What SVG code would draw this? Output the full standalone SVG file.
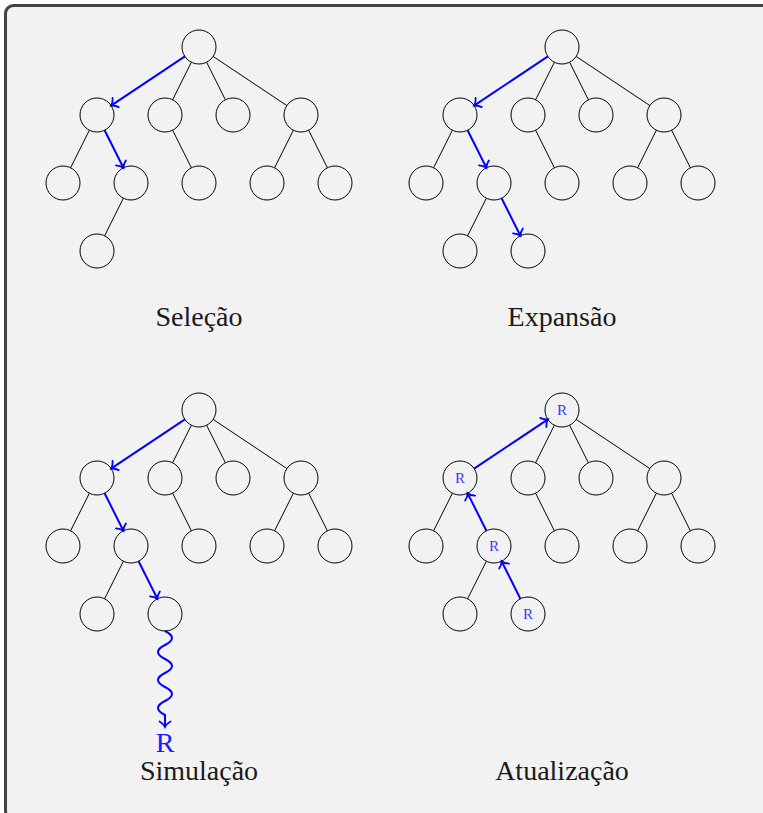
<svg xmlns="http://www.w3.org/2000/svg" width="763" height="813" viewBox="0 0 763 813">
<style>
.n{fill:none;stroke:#000;stroke-width:1}
.e{stroke:#000;stroke-width:1;fill:none}
.b{stroke:#0000ff;stroke-width:2;fill:none;marker-end:url(#ah)}
.lbl{font-family:"Liberation Serif","DejaVu Serif",serif;font-size:28px;fill:#1a1a1a;text-anchor:middle}
.r{font-family:"Liberation Serif","DejaVu Serif",serif;font-size:15px;fill:#3a3aff;text-anchor:middle}
.bigr{font-family:"Liberation Serif","DejaVu Serif",serif;font-size:28px;fill:#1a1aff;text-anchor:middle}
</style>
<defs>
<marker id="ah" markerUnits="userSpaceOnUse" viewBox="-8 -8 10 16" refX="0" refY="0" markerWidth="10" markerHeight="16" orient="auto" overflow="visible">
<path d="M-5.5,-5.5 C-4,-2.8 -1.7,-0.8 0,0 C-1.7,0.8 -4,2.8 -5.5,5.5" fill="none" stroke="#0000ff" stroke-width="1.8" stroke-linecap="round"/>
</marker>
</defs>
<rect x="5.5" y="5.5" width="775" height="813" rx="8" fill="#f2f2f2" stroke="#444" stroke-width="3"/>
<g id="connectors">
<g id="c-sel">
<path class="e" d="M191.4,62.2L172.6,99.8M206.6,62.2L225.4,99.8M213.1,56.4L286.9,105.6M89.4,130.2L70.6,167.8M172.6,130.2L191.4,167.8M293.4,130.2L274.6,167.8M308.6,130.2L327.4,167.8M123.4,198.2L104.6,235.8"/>
<path class="b" d="M184.9,56.4L111.1,105.6"/>
<path class="b" d="M104.6,130.2L123.4,167.8"/>
</g>
<g id="c-exp" transform="translate(363,0)">
<path class="e" d="M191.4,62.2L172.6,99.8M206.6,62.2L225.4,99.8M213.1,56.4L286.9,105.6M89.4,130.2L70.6,167.8M172.6,130.2L191.4,167.8M293.4,130.2L274.6,167.8M308.6,130.2L327.4,167.8M123.4,198.2L104.6,235.8"/>
<path class="b" d="M184.9,56.4L111.1,105.6"/>
<path class="b" d="M104.6,130.2L123.4,167.8"/>
<path class="b" d="M138.6,198.2L157.4,235.8"/>
</g>
<g id="c-sim" transform="translate(0,363)">
<path class="e" d="M191.4,62.2L172.6,99.8M206.6,62.2L225.4,99.8M213.1,56.4L286.9,105.6M89.4,130.2L70.6,167.8M172.6,130.2L191.4,167.8M293.4,130.2L274.6,167.8M308.6,130.2L327.4,167.8M123.4,198.2L104.6,235.8"/>
<path class="b" d="M184.9,56.4L111.1,105.6"/>
<path class="b" d="M104.6,130.2L123.4,167.8"/>
<path class="b" d="M138.6,198.2L157.4,235.8"/>
<path class="b" d="M165,268 Q179,275 165,282 T165,296 T165,310 T165,324 T165,338 T165,352 L165,364"/>
</g>
<g id="c-atu" transform="translate(363,363)">
<path class="e" d="M191.4,62.2L172.6,99.8M206.6,62.2L225.4,99.8M213.1,56.4L286.9,105.6M89.4,130.2L70.6,167.8M172.6,130.2L191.4,167.8M293.4,130.2L274.6,167.8M308.6,130.2L327.4,167.8M123.4,198.2L104.6,235.8"/>
<path class="b" d="M111.1,105.6L184.9,56.4"/>
<path class="b" d="M123.4,167.8L104.6,130.2"/>
<path class="b" d="M157.4,235.8L138.6,198.2"/>
</g>
</g>
<g id="panel-selecao">
<g id="s0"><circle class="n" cx="199" cy="47" r="17"/></g>
<g id="s1"><circle class="n" cx="97" cy="115" r="17"/></g>
<g id="s2"><circle class="n" cx="165" cy="115" r="17"/></g>
<g id="s3"><circle class="n" cx="233" cy="115" r="17"/></g>
<g id="s4"><circle class="n" cx="301" cy="115" r="17"/></g>
<g id="s5"><circle class="n" cx="63" cy="183" r="17"/></g>
<g id="s6"><circle class="n" cx="131" cy="183" r="17"/></g>
<g id="s7"><circle class="n" cx="199" cy="183" r="17"/></g>
<g id="s8"><circle class="n" cx="267" cy="183" r="17"/></g>
<g id="s9"><circle class="n" cx="335" cy="183" r="17"/></g>
<g id="s10"><circle class="n" cx="97" cy="251" r="17"/></g>
<text class="lbl" x="199" y="326">Seleção</text>
</g>
<g id="panel-expansao" transform="translate(363,0)">
<g id="e0"><circle class="n" cx="199" cy="47" r="17"/></g>
<g id="e1"><circle class="n" cx="97" cy="115" r="17"/></g>
<g id="e2"><circle class="n" cx="165" cy="115" r="17"/></g>
<g id="e3"><circle class="n" cx="233" cy="115" r="17"/></g>
<g id="e4"><circle class="n" cx="301" cy="115" r="17"/></g>
<g id="e5"><circle class="n" cx="63" cy="183" r="17"/></g>
<g id="e6"><circle class="n" cx="131" cy="183" r="17"/></g>
<g id="e7"><circle class="n" cx="199" cy="183" r="17"/></g>
<g id="e8"><circle class="n" cx="267" cy="183" r="17"/></g>
<g id="e9"><circle class="n" cx="335" cy="183" r="17"/></g>
<g id="e10"><circle class="n" cx="97" cy="251" r="17"/></g>
<g id="e11"><circle class="n" cx="165" cy="251" r="17"/></g>
<text class="lbl" x="199" y="326">Expansão</text>
</g>
<g id="panel-simulacao" transform="translate(0,363)">
<g id="m0"><circle class="n" cx="199" cy="47" r="17"/></g>
<g id="m1"><circle class="n" cx="97" cy="115" r="17"/></g>
<g id="m2"><circle class="n" cx="165" cy="115" r="17"/></g>
<g id="m3"><circle class="n" cx="233" cy="115" r="17"/></g>
<g id="m4"><circle class="n" cx="301" cy="115" r="17"/></g>
<g id="m5"><circle class="n" cx="63" cy="183" r="17"/></g>
<g id="m6"><circle class="n" cx="131" cy="183" r="17"/></g>
<g id="m7"><circle class="n" cx="199" cy="183" r="17"/></g>
<g id="m8"><circle class="n" cx="267" cy="183" r="17"/></g>
<g id="m9"><circle class="n" cx="335" cy="183" r="17"/></g>
<g id="m10"><circle class="n" cx="97" cy="251" r="17"/></g>
<g id="m11"><circle class="n" cx="165" cy="251" r="17"/></g>
<g id="m-result"><text class="bigr" x="165" y="389">R</text></g>
<text class="lbl" x="199" y="417">Simulação</text>
</g>
<g id="panel-atualizacao" transform="translate(363,363)">
<g id="a0"><circle class="n" cx="199" cy="47" r="17"/><text class="r" x="199" y="52">R</text></g>
<g id="a1"><circle class="n" cx="97" cy="115" r="17"/><text class="r" x="97" y="120">R</text></g>
<g id="a2"><circle class="n" cx="165" cy="115" r="17"/></g>
<g id="a3"><circle class="n" cx="233" cy="115" r="17"/></g>
<g id="a4"><circle class="n" cx="301" cy="115" r="17"/></g>
<g id="a5"><circle class="n" cx="63" cy="183" r="17"/></g>
<g id="a6"><circle class="n" cx="131" cy="183" r="17"/><text class="r" x="131" y="188">R</text></g>
<g id="a7"><circle class="n" cx="199" cy="183" r="17"/></g>
<g id="a8"><circle class="n" cx="267" cy="183" r="17"/></g>
<g id="a9"><circle class="n" cx="335" cy="183" r="17"/></g>
<g id="a10"><circle class="n" cx="97" cy="251" r="17"/></g>
<g id="a11"><circle class="n" cx="165" cy="251" r="17"/><text class="r" x="165" y="256">R</text></g>
<text class="lbl" x="199" y="417">Atualização</text>
</g>
</svg>
